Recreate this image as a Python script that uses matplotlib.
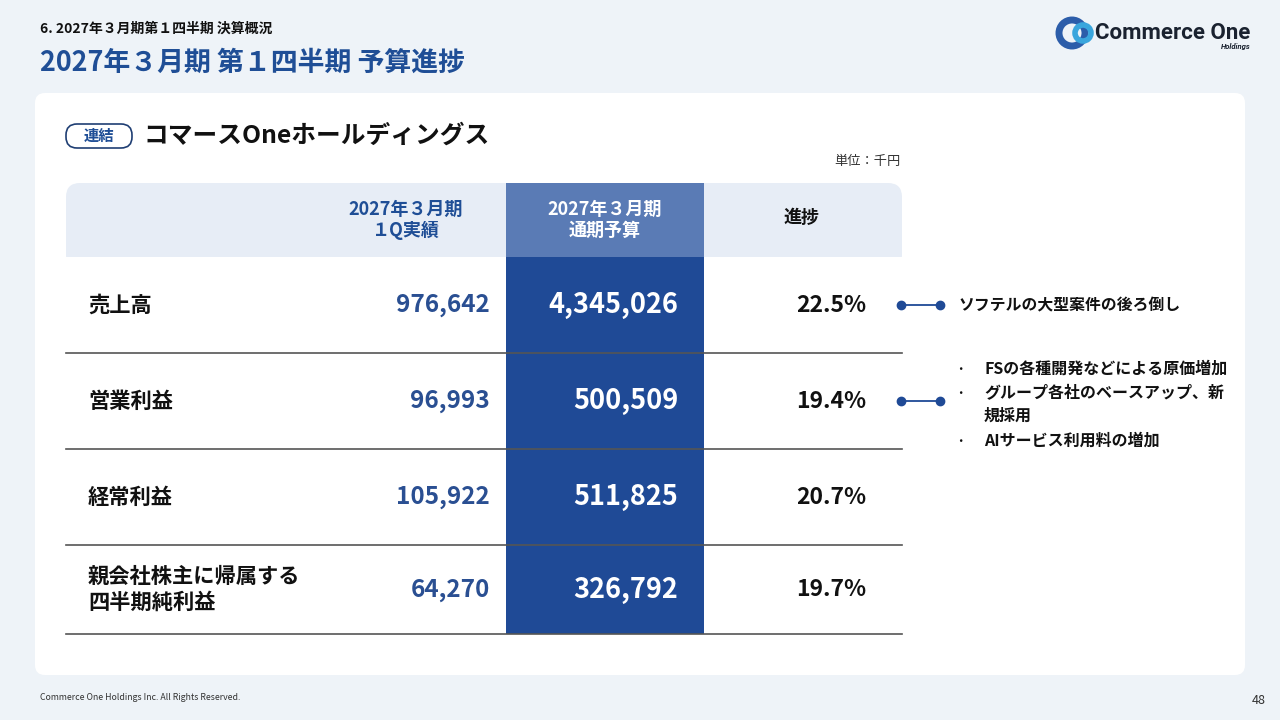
import matplotlib
matplotlib.use("Agg")
import matplotlib.pyplot as plt
from matplotlib.patches import FancyBboxPatch, Rectangle, Circle

plt.rcParams['font.family'] = ['Noto Sans CJK JP', 'DejaVu Sans']

# data
row_labels = ["売上高", "営業利益", "経常利益", "親会社株主に帰属する\n四半期純利益"]
actual_1q = [976642, 96993, 105922, 64270]
budget_full = [4345026, 500509, 511825, 326792]
progress = [22.5, 19.4, 20.7, 19.7]
col_headers = ["2027年３月期\n１Q実績", "2027年３月期\n通期予算", "進捗"]
notes = {0: ["ソフテルの大型案件の後ろ倒し"],
         1: ["FSの各種開発などによる原価増加",
             "グループ各社のベースアップ、新\n規採用",
             "AIサービス利用料の増加"]}

BLUE = "#1F4A96"
TITLE_BLUE = "#1F4E96"
BG = "#EEF3F8"

fig = plt.figure(figsize=(12.8, 7.2), dpi=100)
fig.patch.set_facecolor(BG)
ax = fig.add_axes([0, 0, 1, 1])
ax.set_xlim(0, 1280)
ax.set_ylim(720, 0)
ax.axis("off")

# header
ax.text(40, 29, "6. 2027年３月期第１四半期 決算概況", fontsize=10, fontweight="bold",
        va="center", color="#111111")
ax.text(40, 63, "2027年３月期 第１四半期 予算進捗", fontsize=19.4, fontweight="bold",
        va="center", color=TITLE_BLUE)

# logo
ax.add_patch(Circle((1072, 33), 13, fill=False, lw=5, ec="#2C5DAA"))
ax.add_patch(Circle((1083, 33), 8, fill=False, lw=4, ec="#3AA6DD"))
ax.text(1250, 33, "Commerce One", fontsize=16, fontweight="bold", ha="right", va="center",
        color="#1A2230", family="Roboto")
ax.text(1251, 47, "Holdings", fontsize=5.5, fontstyle="italic", fontweight="bold",
        ha="right", va="center", color="#1A2230", family="Roboto")

# card
ax.add_patch(FancyBboxPatch((35, 93), 1210, 582, boxstyle="round,pad=0,rounding_size=10",
                            fc="white", ec="none"))

# section label
ax.add_patch(FancyBboxPatch((66, 124), 66, 24, boxstyle="round,pad=0,rounding_size=11",
                            fc="white", ec="#1F3E73", lw=1.2))
ax.text(99, 136, "連結", fontsize=11, fontweight="bold", ha="center", va="center",
        color=TITLE_BLUE)
ax.text(143, 136, "コマースOneホールディングス", fontsize=17.8, fontweight="bold",
        va="center", color="#111111")
ax.text(901, 161, "単位：千円", fontsize=9.5, ha="right", va="center", color="#333333")

# table geometry
left, right = 66, 902
mid_l, mid_r = 506, 704
head_top, head_bot = 183, 257
row_h = [96, 96, 96, 89]

ax.add_patch(FancyBboxPatch((left, head_top), right - left, head_bot - head_top + 12,
                            boxstyle="round,pad=0,rounding_size=14", fc="#E7EDF6", ec="none"))
ax.add_patch(Rectangle((left, head_bot), right - left, 14, fc="white", ec="none"))
ax.add_patch(Rectangle((mid_l, head_top), mid_r - mid_l, head_bot - head_top, fc="#5A7BB5", ec="none"))

hy = (head_top + head_bot) / 2
ax.text(406, hy, col_headers[0], fontsize=13, fontweight="bold", ha="center", va="center",
        color=TITLE_BLUE, linespacing=1.15)
ax.text(605, hy, col_headers[1], fontsize=13, fontweight="bold", ha="center", va="center",
        color="white", linespacing=1.15)
ax.text(802, hy - 3, col_headers[2], fontsize=13, fontweight="bold", ha="center", va="center",
        color="#111111")

body_bot = head_bot + sum(row_h)
ax.add_patch(Rectangle((mid_l, head_bot), mid_r - mid_l, body_bot - head_bot, fc=BLUE, ec="none"))

y = head_bot
for i, lab in enumerate(row_labels):
    cy = y + row_h[i] / 2
    ax.text(88, cy, lab, fontsize=15.3, fontweight="bold", va="center", color="#111111",
            linespacing=1.3)
    ax.text(490, cy, f"{actual_1q[i]:,}", fontsize=17.5, fontweight="bold", ha="right",
            va="center", color="#2A4F92")
    ax.text(678, cy, f"{budget_full[i]:,}", fontsize=19.5, fontweight="bold", ha="right",
            va="center", color="white")
    ax.text(866, cy, f"{progress[i]:.1f}%", fontsize=16.5, fontweight="bold", ha="right",
            va="center", color="#111111")
    y += row_h[i]
    ax.plot([left, right], [y, y], color="#555555", lw=1.2)

    if i in notes:
        ax.plot([901, 940], [cy, cy], color=BLUE, lw=1.3)
        ax.plot([901, 940], [cy, cy], "o", color=BLUE, ms=6)
        items = notes[i]
        if len(items) == 1:
            ax.text(958, cy, items[0], fontsize=11.4, fontweight="bold", va="center",
                    color="#111111")
        else:
            ty = cy - 32
            for it in items:
                n = it.count("\n") + 1
                ax.text(960, ty, "・", fontsize=9, va="center", ha="center", color="#111111")
                ax.text(984, ty + (n - 1) * 11.5, it, fontsize=11.5, fontweight="bold",
                        va="center", color="#111111", linespacing=1.45)
                ty += 24 * n

# footer
ax.text(40, 697, "Commerce One Holdings Inc. All Rights Reserved.", fontsize=6.3,
        va="center", color="#333333")
ax.text(1266, 700, "48", fontsize=9, ha="right", va="center", color="#333333")

fig.savefig("out.png", dpi=100, facecolor=BG)
